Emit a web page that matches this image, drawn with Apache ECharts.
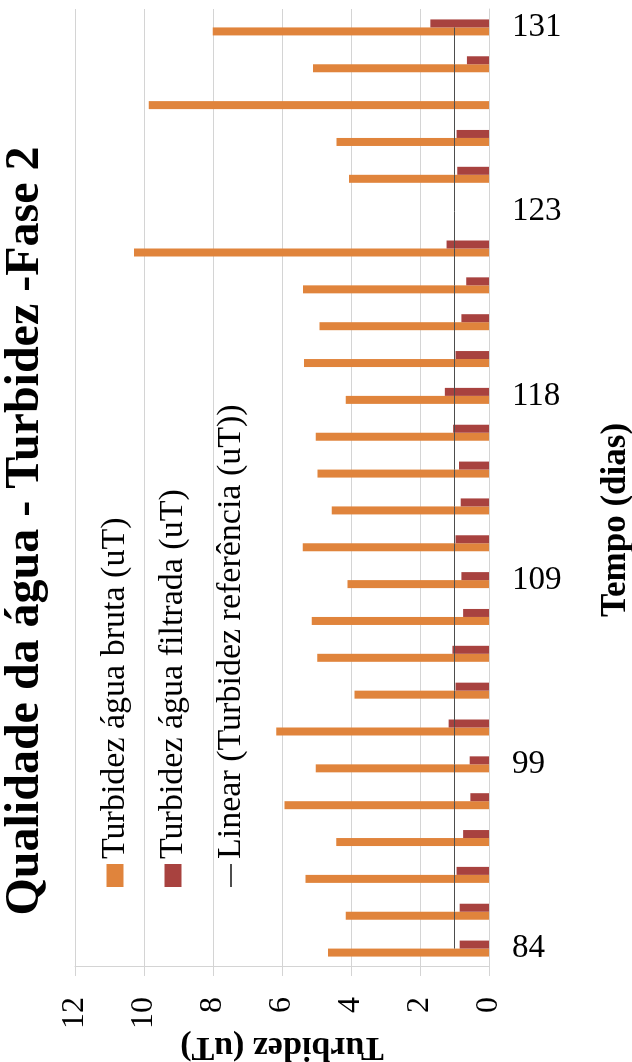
<!DOCTYPE html>
<html>
<head>
<meta charset="utf-8">
<script src="https://cdn.jsdelivr.net/npm/echarts@6/dist/echarts.min.js"></script>
<style>
  html, body { margin: 0; padding: 0; background: #fff; }
  #frame { position: relative; width: 632px; height: 1062px; overflow: hidden; background: #fff; }
  /* the chart is laid out landscape and turned a quarter turn counter-clockwise */
  #chart {
    position: absolute; left: 0; top: 0;
    width: 1062px; height: 632px;
    transform-origin: 0 0;
    transform: translateY(1062px) rotate(-90deg);
  }
</style>
</head>
<body>
<div id="frame"><div id="chart"></div></div>
<script>
// Days of the trial (category axis)
const days = ['84', '87', '90', '93', '96', '99', '101', '103', '105', '107',
              '109', '111', '113', '115', '116', '118', '119', '120', '121', '122',
              '123', '125', '127', '129', '130', '131'];

// Raw water turbidity (uT)
const turbidezBruta = [4.67, 4.15, 5.32, 4.43, 5.93, 5.02, 6.17, 3.90, 4.98, 5.14,
                       4.10, 5.40, 4.56, 4.97, 5.02, 4.15, 5.36, 4.91, 5.39, 10.29,
                       null, 4.06, 4.42, 9.86, 5.10, 8.01];

// Filtered water turbidity (uT)
const turbidezFiltrada = [0.85, 0.85, 0.94, 0.75, 0.54, 0.56, 1.17, 0.97, 1.06, 0.75,
                          0.80, 0.97, 0.82, 0.87, 1.04, 1.28, 0.97, 0.80, 0.66, 1.23,
                          null, 0.92, 0.94, null, 0.64, 1.70];

// Reference turbidity (uT)
const turbidezReferencia = [1, 1, 1, 1, 1, 1, 1, 1, 1, 1,
                            1, 1, 1, 1, 1, 1, 1, 1, 1, 1,
                            1, 1, 1, 1, 1, 1];

// Value axis ticks
const valueMin = 0, valueMax = 12, valueStep = 2;

const FONT = "'Liberation Serif', 'Times New Roman', serif";
const GRID_COLOR = '#d4d4d4';

const chart = echarts.init(document.getElementById('chart'), null, { renderer: 'canvas' });

chart.setOption({
  animation: false,
  backgroundColor: '#ffffff',
  textStyle: { fontFamily: FONT, color: '#000' },
  title: {
    text: 'Qualidade da água - Turbidez -Fase 2',
    left: 'center',
    top: 2,
    padding: 0,
    textStyle: { fontFamily: FONT, fontSize: 48, fontWeight: 'bold', color: '#000' }
  },
  legend: {
    orient: 'vertical',
    left: 174,
    top: 98,
    padding: 0,
    itemWidth: 23,
    itemHeight: 17,
    itemGap: 24,
    textStyle: { fontFamily: FONT, fontSize: 34, color: '#000' },
    data: [
      { name: 'Turbidez água bruta (uT)', icon: 'rect' },
      { name: 'Turbidez água filtrada (uT)', icon: 'rect' },
      // trend line key: line only, no point marker
      { name: 'Linear (Turbidez referência (uT))', itemStyle: { opacity: 0 } }
    ]
  },
  grid: { left: 95, right: 9, top: 75, bottom: 143, containLabel: false, outerBoundsMode: 'none' },
  xAxis: {
    type: 'category',
    data: days,
    axisLine: { show: true, lineStyle: { color: GRID_COLOR, width: 1 } },
    axisTick: { show: false },
    axisLabel: { interval: 4, rotate: -90, margin: 23, fontFamily: FONT, fontSize: 33, color: '#000' },
    name: 'Tempo (dias)',
    nameLocation: 'middle',
    nameGap: 109,
    nameMoveOverlap: false,
    nameTextStyle: { fontFamily: FONT, fontSize: 35, fontWeight: 'bold', color: '#000', padding: [0, 64, 0, 0] }
  },
  yAxis: {
    type: 'value',
    min: valueMin,
    max: valueMax,
    interval: valueStep,
    axisLine: { show: true, lineStyle: { color: GRID_COLOR, width: 1 } },
    axisTick: { show: true, length: 9, lineStyle: { color: GRID_COLOR } },
    splitLine: { show: true, lineStyle: { color: GRID_COLOR, width: 1 } },
    axisLabel: { margin: 30, fontFamily: FONT, fontSize: 32, color: '#000' },
    name: 'Turbidez (uT)',
    nameLocation: 'middle',
    nameGap: 63,
    nameMoveOverlap: false,
    nameTextStyle: { fontFamily: FONT, fontSize: 34, fontWeight: 'bold', color: '#000' }
  },
  series: [
    {
      name: 'Turbidez água bruta (uT)',
      type: 'bar',
      data: turbidezBruta,
      barWidth: 8,
      barGap: '0%',
      itemStyle: { color: '#e0843c' }
    },
    {
      name: 'Turbidez água filtrada (uT)',
      type: 'bar',
      data: turbidezFiltrada,
      barWidth: 8,
      barGap: '0%',
      itemStyle: { color: '#a8423f' }
    },
    {
      name: 'Linear (Turbidez referência (uT))',
      type: 'line',
      data: turbidezReferencia,
      symbol: 'none',
      lineStyle: { color: '#4d4d4d', width: 1 },
      itemStyle: { color: '#4d4d4d' },
      z: 5
    }
  ]
});
</script>
</body>
</html>
